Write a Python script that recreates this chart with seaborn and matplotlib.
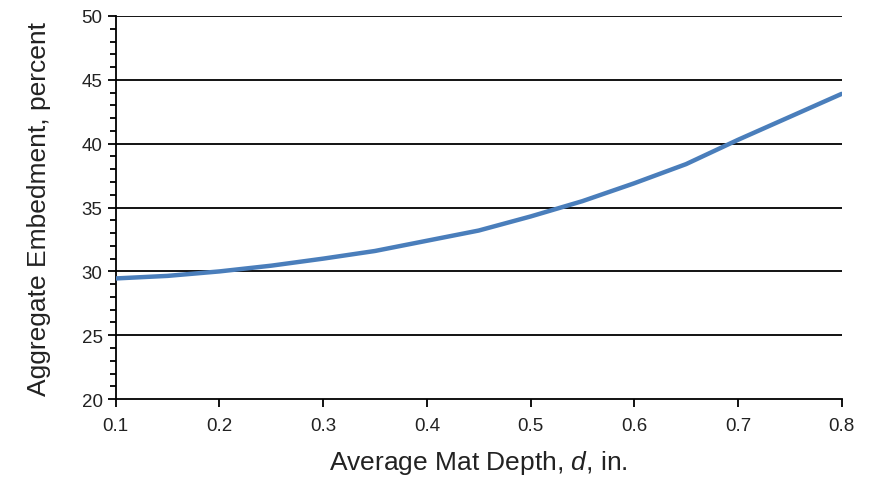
import pandas as pd
import seaborn as sns
import matplotlib.pyplot as plt
from matplotlib.ticker import MultipleLocator, FormatStrFormatter

# Values
mat_depth = [0.10, 0.15, 0.20, 0.25, 0.30, 0.35, 0.40, 0.45, 0.50, 0.55, 0.60, 0.65, 0.70, 0.75, 0.80]
embedment = [29.45, 29.65, 30.0, 30.45, 31.0, 31.6, 32.4, 33.2, 34.3, 35.5, 36.9, 38.4, 40.3, 42.1, 43.9]

df = pd.DataFrame({"depth": mat_depth, "embed": embedment})

sns.set_style("ticks")
plt.rcParams['font.family'] = ['Liberation Sans', 'DejaVu Sans']
plt.rcParams['mathtext.fontset'] = 'custom'
plt.rcParams['mathtext.it'] = 'Liberation Sans:italic'
plt.rcParams['mathtext.rm'] = 'Liberation Sans'

fig = plt.figure(figsize=(8.84, 4.85), dpi=100)
ax = fig.add_axes([0.131, 0.175, 0.821, 0.790])

for yv in [25, 30, 35, 40, 45, 50]:
    ax.axhline(yv, color="black", lw=1.3, zorder=1)

sns.lineplot(data=df, x="depth", y="embed", ax=ax, color="#4a7ebb", lw=3.2, zorder=3)

ax.set_xlim(0.1, 0.8)
ax.set_ylim(20, 50)
ax.xaxis.set_major_locator(MultipleLocator(0.1))
ax.xaxis.set_major_formatter(FormatStrFormatter("%.1f"))
ax.yaxis.set_major_locator(MultipleLocator(5))
ax.yaxis.set_minor_locator(MultipleLocator(1))
ax.tick_params(axis="both", which="major", labelsize=13.5, length=6, width=1.3, color="black", labelcolor="#222222")
ax.tick_params(axis="x", which="major", pad=7)
ax.tick_params(axis="y", which="minor", length=4, width=1.3, color="black")

for side in ["top", "right"]:
    ax.spines[side].set_visible(False)
for side in ["left", "bottom"]:
    ax.spines[side].set_color("black")
    ax.spines[side].set_linewidth(1.3)

ax.set_xlabel("Average Mat Depth, $\\it{d}$, in.", fontsize=19, labelpad=10, color="#222222")
ax.set_ylabel("Aggregate Embedment, percent", fontsize=19, labelpad=22, color="#222222")

fig.savefig("out.png", dpi=100)
